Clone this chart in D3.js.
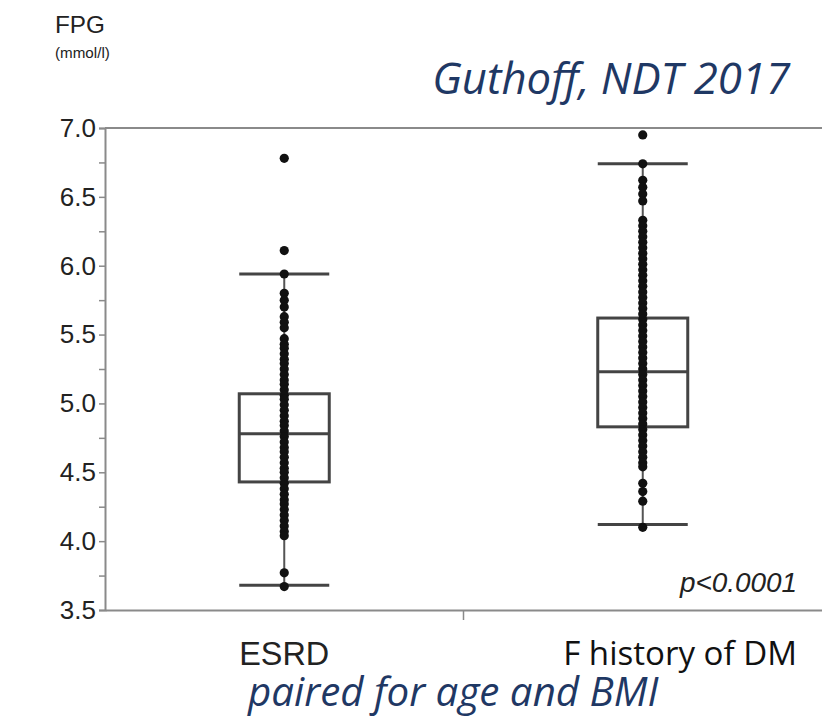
<!DOCTYPE html>
<html><head><meta charset="utf-8">
<script src="https://cdn.jsdelivr.net/npm/d3@7"></script>
<style>body{margin:0;background:#fff}svg{display:block}</style>
</head><body>
<script>
const categories = ["ESRD", "F history of DM"];
const yTicks = [3.5, 4.0, 4.5, 5.0, 5.5, 6.0, 6.5, 7.0];
const yMinorTicks = [3.75, 4.25, 4.75, 5.25, 5.75, 6.25, 6.75];
const esrdValues = [6.78, 6.11, 5.94, 5.80, 5.75, 5.70, 5.63, 5.59, 5.55, 5.47, 5.43, 5.40, 5.36, 5.32, 5.29, 5.25, 5.21, 5.17, 5.14, 5.10, 5.06, 5.03, 4.99, 4.95, 4.91, 4.87, 4.84, 4.80, 4.76, 4.72, 4.68, 4.65, 4.61, 4.57, 4.53, 4.50, 4.46, 4.42, 4.38, 4.34, 4.30, 4.27, 4.23, 4.19, 4.15, 4.11, 4.07, 4.04, 3.77, 3.67];
const dmValues = [6.95, 6.74, 6.62, 6.57, 6.52, 6.47, 6.33, 6.29, 6.25, 6.21, 6.17, 6.13, 6.09, 6.05, 6.01, 5.97, 5.93, 5.89, 5.85, 5.81, 5.77, 5.73, 5.69, 5.65, 5.61, 5.57, 5.53, 5.49, 5.45, 5.41, 5.37, 5.33, 5.29, 5.25, 5.21, 5.17, 5.13, 5.09, 5.05, 5.01, 4.97, 4.93, 4.89, 4.85, 4.81, 4.77, 4.73, 4.69, 4.65, 4.61, 4.57, 4.54, 4.42, 4.36, 4.29, 4.10];
const q1 = [4.43, 4.83];
const medians = [4.78, 5.23];
const q3 = [5.07, 5.62];
const whiskerLow = [3.68, 4.12];
const whiskerHigh = [5.94, 6.74];

(function () {
const W = 822, H = 720;
const pLeft = 105, pRight = 822, pTop = 128, pBottom = 610;
const svg = d3.select("body").append("svg").attr("width", W).attr("height", H);

const x = d3.scalePoint().domain(categories).range([pLeft, pRight]).padding(0.5);
const y = d3.scaleLinear().domain([3.5, 7.0]).range([pBottom, pTop]);
const boxW = 90;
const axisCol = "#8a8a8a";
const sans = "Liberation Sans, Arial, sans-serif";
const cal = "Open Sans, Noto Sans, sans-serif";

svg.append("line").attr("x1", pLeft).attr("x2", pRight).attr("y1", pTop).attr("y2", pTop)
  .attr("stroke", axisCol).attr("stroke-width", 2);

const yAxis = d3.axisLeft(y).tickValues(yTicks).tickFormat(d3.format(".1f")).tickSize(6).tickPadding(3);
const gy = svg.append("g").attr("transform", `translate(${pLeft},0)`).call(yAxis);
gy.select(".domain").attr("stroke", axisCol).attr("stroke-width", 2);
gy.selectAll(".tick line").attr("stroke", axisCol).attr("stroke-width", 1.5);
gy.selectAll(".tick text").attr("font-family", sans)
  .attr("font-size", 26).attr("fill", "#222");
const yMinor = d3.axisLeft(y).tickValues(yMinorTicks).tickFormat("").tickSize(6);
const gym = svg.append("g").attr("transform", `translate(${pLeft},0)`).call(yMinor);
gym.select(".domain").remove();
gym.selectAll(".tick line").attr("stroke", axisCol).attr("stroke-width", 1.5);

const xAxis = d3.axisBottom(x).tickFormat("").tickSize(0);
const gx = svg.append("g").attr("transform", `translate(0,${pBottom})`).call(xAxis);
gx.select(".domain").attr("stroke", axisCol).attr("stroke-width", 2);
gx.selectAll(".tick").remove();
const mid = (x(categories[0]) + x(categories[1])) / 2;
svg.append("line").attr("x1", mid).attr("x2", mid).attr("y1", pBottom).attr("y2", pBottom + 10)
  .attr("stroke", axisCol).attr("stroke-width", 1.5);

const boxCol = "#444";
categories.forEach((c, i) => {
  const cx = x(c);
  const g = svg.append("g");
  g.append("line").attr("x1", cx).attr("x2", cx).attr("y1", y(whiskerLow[i])).attr("y2", y(whiskerHigh[i]))
    .attr("stroke", "#555").attr("stroke-width", 2);
  [whiskerLow[i], whiskerHigh[i]].forEach(v => {
    g.append("line").attr("x1", cx - boxW / 2).attr("x2", cx + boxW / 2).attr("y1", y(v)).attr("y2", y(v))
      .attr("stroke", boxCol).attr("stroke-width", 3);
  });
  g.append("rect").attr("x", cx - boxW / 2).attr("width", boxW)
    .attr("y", y(q3[i])).attr("height", y(q1[i]) - y(q3[i]))
    .attr("fill", "none").attr("stroke", boxCol).attr("stroke-width", 3);
  g.append("line").attr("x1", cx - boxW / 2).attr("x2", cx + boxW / 2).attr("y1", y(medians[i])).attr("y2", y(medians[i]))
    .attr("stroke", boxCol).attr("stroke-width", 3);
});

const series = [esrdValues, dmValues];
series.forEach((vals, i) => {
  svg.append("g").selectAll("circle").data(vals).join("circle")
    .attr("cx", x(categories[i])).attr("cy", d => y(d)).attr("r", 4.6)
    .attr("fill", "#111");
});

function label(txt, xPos, yPos, anchor, family, width, color, italic) {
  const t = svg.append("text").attr("x", xPos).attr("y", yPos).attr("text-anchor", anchor).text(txt)
    .attr("font-family", family).attr("font-size", 20).attr("fill", color)
    .attr("font-style", italic ? "italic" : "normal");
  const w = t.node().getComputedTextLength();
  t.attr("font-size", (20 * width / w).toFixed(1));
  return t;
}
label("FPG", 55, 33, "start", sans, 50, "#222", false);
label("(mmol/l)", 55, 58, "start", sans, 55, "#222", false);
label("Guthoff, NDT 2017", 790, 94, "end", cal, 358, "#1f3864", true);
label("p<0.0001", 797, 592, "end", sans, 117, "#222", true);
label(categories[0], x(categories[0]), 665, "middle", sans, 90, "#222", false);
label(categories[1], 797, 665, "end", cal, 234, "#111", false);
label("paired for age and BMI", 248, 706, "start", cal, 410, "#1f3864", true);
})();
</script>
</body></html>
